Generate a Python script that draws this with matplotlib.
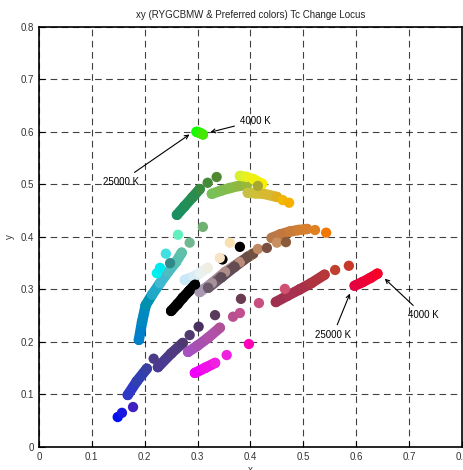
import numpy as np
import matplotlib
matplotlib.use('Agg')
import matplotlib.pyplot as plt
from matplotlib.collections import LineCollection

plt.rcParams['font.family'] = ['Liberation Sans', 'DejaVu Sans']

# ---- loci (dense runs of points) : x, y, colours ----
blue1_x = [0.168, 0.185, 0.204]
blue1_y = [0.099, 0.125, 0.149]
blue1_c = ['#3038c8', '#3040b0', '#3a40a0']
blue2_x = [0.225, 0.250, 0.272]
blue2_y = [0.152, 0.178, 0.198]
blue2_c = ['#4a3a90', '#503a80', '#4e3870']

mag_x = [0.295, 0.315, 0.333]
mag_y = [0.141, 0.151, 0.160]
mag_c = ['#f000f8', '#f010e8', '#f020e0']

vio_x = [0.282, 0.300, 0.320, 0.342]
vio_y = [0.181, 0.193, 0.208, 0.227]
vio_c = ['#a850c0', '#a850b0', '#b050a8', '#b05098']

maroon_x = [0.448, 0.470, 0.493, 0.515, 0.540]
maroon_y = [0.276, 0.288, 0.300, 0.312, 0.328]
maroon_c = ['#a03050', '#a83050', '#a83048', '#b03440', '#b83838']

red_x = [0.597, 0.612, 0.627, 0.640]
red_y = [0.307, 0.314, 0.322, 0.330]
red_c = ['#e40040', '#ec0038', '#f40030', '#f80028']

orange_x = [0.440, 0.457, 0.474, 0.490, 0.507]
orange_y = [0.398, 0.405, 0.410, 0.413, 0.415]
orange_c = ['#b87848', '#c07840', '#c87c38', '#d08030', '#d88030']

ltbrown_x = [0.304, 0.327, 0.352, 0.380, 0.399]
ltbrown_y = [0.295, 0.312, 0.333, 0.352, 0.364]
ltbrown_c = ['#a898b0', '#a89098', '#b08c88', '#b88c78', '#c08c70']

dkbrown_x = [0.320, 0.345, 0.370, 0.395, 0.405]
dkbrown_y = [0.303, 0.323, 0.343, 0.362, 0.368]
dkbrown_c = ['#685868', '#5e4c58', '#644c50', '#6a4e48', '#705040']

white_x = [0.276, 0.292, 0.304, 0.319]
white_y = [0.318, 0.324, 0.331, 0.341]
white_c = ['#c8e8f8', '#d8ecf4', '#e8f0f0', '#f0eee0']

black_x = [0.250, 0.262, 0.272, 0.284, 0.295]
black_y = [0.259, 0.272, 0.284, 0.297, 0.309]
black_c = ['#000000'] * 5

cyan_x = [0.189, 0.195, 0.202, 0.214, 0.229, 0.244, 0.259, 0.270]
cyan_y = [0.204, 0.238, 0.270, 0.290, 0.312, 0.333, 0.352, 0.370]
cyan_c = ['#0080c8', '#0088c0', '#0090b0', '#20a8c8', '#40b8d0', '#50bcc0', '#58c0b0', '#60c0a8']

green_x = [0.261, 0.275, 0.290, 0.304]
green_y = [0.442, 0.458, 0.475, 0.491]
green_c = ['#1a9060', '#209058', '#2a8c50', '#3a8a40']

ygreen_x = [0.327, 0.344, 0.361, 0.378, 0.393]
ygreen_y = [0.482, 0.488, 0.493, 0.497, 0.499]
ygreen_c = ['#78c058', '#80bc50', '#88bc48', '#90b840', '#98b838']

yellow_x = [0.380, 0.392, 0.405, 0.422]
yellow_y = [0.516, 0.514, 0.510, 0.501]
yellow_c = ['#d8f030', '#e8f020', '#f0f010', '#f8f000']

gold_x = [0.395, 0.410, 0.425, 0.450]
gold_y = [0.484, 0.483, 0.482, 0.476]
gold_c = ['#c8c040', '#d0c038', '#d8b830', '#e0b020']

lime_x = [0.298, 0.304, 0.310]
lime_y = [0.600, 0.598, 0.595]
lime_c = ['#10ff00', '#28f400', '#44e800']

loci = [
    (blue1_x, blue1_y, blue1_c), (blue2_x, blue2_y, blue2_c),
    (mag_x, mag_y, mag_c), (vio_x, vio_y, vio_c),
    (maroon_x, maroon_y, maroon_c), (red_x, red_y, red_c),
    (orange_x, orange_y, orange_c), (ltbrown_x, ltbrown_y, ltbrown_c),
    (dkbrown_x, dkbrown_y, dkbrown_c), (white_x, white_y, white_c),
    (black_x, black_y, black_c), (cyan_x, cyan_y, cyan_c),
    (green_x, green_y, green_c), (ygreen_x, ygreen_y, ygreen_c),
    (gold_x, gold_y, gold_c), (yellow_x, yellow_y, yellow_c),
    (lime_x, lime_y, lime_c),
]

# ---- isolated points ----
dot_x = [0.149, 0.157, 0.178, 0.217, 0.285, 0.302, 0.333, 0.382,
         0.355, 0.397, 0.367, 0.380, 0.416, 0.465,
         0.560, 0.586, 0.522, 0.543,
         0.414, 0.431, 0.450, 0.467,
         0.347, 0.342, 0.380, 0.361,
         0.223, 0.229, 0.240, 0.248, 0.263, 0.285, 0.310,
         0.319, 0.336, 0.414, 0.461, 0.473]
dot_y = [0.057, 0.065, 0.076, 0.168, 0.213, 0.229, 0.251, 0.282,
         0.175, 0.196, 0.248, 0.255, 0.274, 0.301,
         0.337, 0.345, 0.413, 0.408,
         0.377, 0.379, 0.389, 0.390,
         0.357, 0.360, 0.381, 0.389,
         0.331, 0.341, 0.368, 0.350, 0.404, 0.389, 0.419,
         0.503, 0.514, 0.497, 0.470, 0.465]
dot_c = ['#0010f0', '#1818e0', '#4020c0', '#4a3a88', '#503a70', '#4a3060', '#5a3a5a', '#6a3a50',
         '#f020e0', '#ff00b8', '#b85090', '#c05090', '#c85080', '#d05070',
         '#c04030', '#c83828', '#e08020', '#f07800',
         '#c08860', '#7a5040', '#c89060', '#8a5a3a',
         '#000000', '#f8e4c4', '#000000', '#f8e0b0',
         '#00f0f0', '#00e8f0', '#40e0e0', '#308888', '#60f0c0', '#70b890', '#70b070',
         '#448a38', '#508830', '#a8a830', '#f0b800', '#f8b000']

fig = plt.figure(figsize=(4.63, 4.70), dpi=100)
ax = fig.add_axes([0.084, 0.049, 0.914, 0.894])

for xs, ys, cs in loci:
    pts = np.column_stack([xs, ys])
    segs = [pts[i:i + 2] for i in range(len(pts) - 1)]
    lc = LineCollection(segs, colors=cs[:-1], linewidths=7.5, capstyle='round', zorder=2)
    ax.add_collection(lc)
    ax.scatter(xs, ys, c=cs, s=55, edgecolors='none', zorder=3)

ax.scatter(dot_x, dot_y, c=dot_c, s=55, edgecolors='none', zorder=3)

# annotations
arrow = dict(arrowstyle='->', color='black', lw=0.8)
ax.annotate('4000 K', xy=(0.319, 0.598), xytext=(0.380, 0.621), fontsize=7, va='center', arrowprops=arrow)
ax.annotate('25000 K', xy=(0.289, 0.598), xytext=(0.121, 0.505), fontsize=7, va='center', arrowprops=arrow)
ax.annotate('25000 K', xy=(0.590, 0.297), xytext=(0.556, 0.213), fontsize=7, va='center', ha='center', arrowprops=arrow)
ax.annotate('4000 K', xy=(0.650, 0.324), xytext=(0.698, 0.251), fontsize=7, va='center', arrowprops=arrow)

ax.set_xlim(0, 0.8)
ax.set_ylim(0, 0.8)
ax.set_xticks(np.arange(0, 0.81, 0.1))
ax.set_yticks(np.arange(0, 0.81, 0.1))
ax.set_xticklabels(['0', '0.1', '0.2', '0.3', '0.4', '0.5', '0.6', '0.7', '0.8'])
ax.set_yticklabels(['0', '0.1', '0.2', '0.3', '0.4', '0.5', '0.6', '0.7', '0.8'])
ax.tick_params(direction='in', length=4, labelsize=7, labelcolor='#333333', width=0.8)
ax.grid(True, color='black', linestyle=(0, (6, 4)), linewidth=0.8, alpha=0.75)
ax.set_axisbelow(True)
for s in ax.spines.values():
    s.set_linewidth(1.2)
ax.set_xlabel('x', fontsize=7, labelpad=2, color='#333333')
ax.set_ylabel('y', fontsize=7, labelpad=4, color='#333333')
ax.set_title('xy (RYGCBMW & Preferred colors) Tc Change Locus', fontsize=7, pad=6, color='#222222')

fig.savefig('out.png', dpi=100)
